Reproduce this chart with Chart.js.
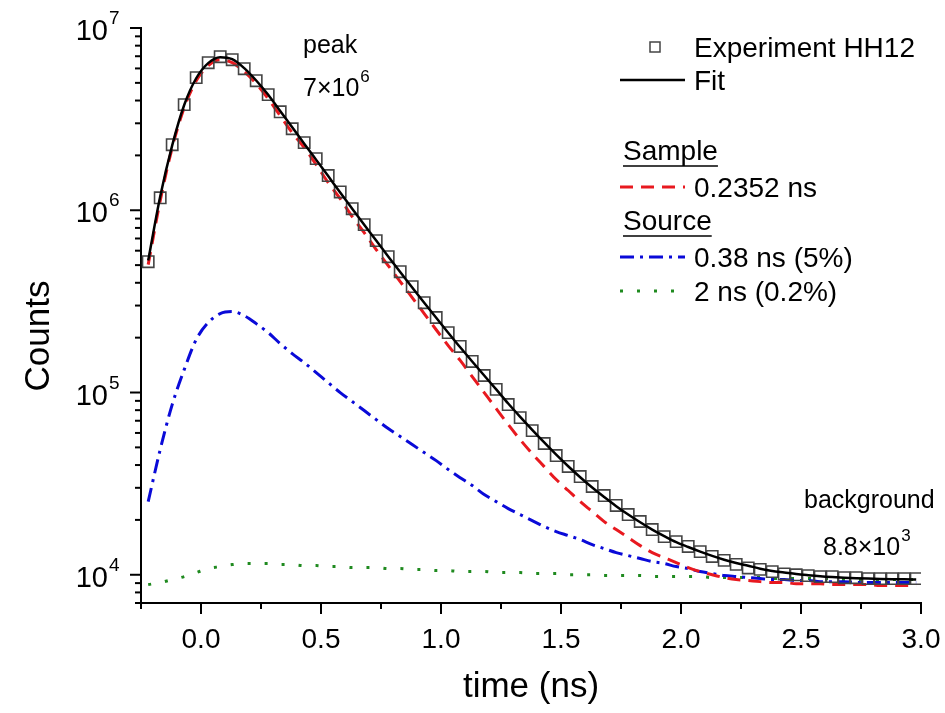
<!DOCTYPE html>
<html lang="en">
<head>
<meta charset="UTF-8">
<title>Lifetime spectrum HH12</title>
<script src="https://cdn.jsdelivr.net/npm/chart.js"></script>
<style>
  html, body { margin: 0; padding: 0; background: #fff; }
  #wrap { width: 945px; height: 713px; }
</style>
</head>
<body>
<div id="wrap"><canvas id="spectrum" width="945" height="713"></canvas></div>
<script>
// time channels (ns)
const times = [-0.22, -0.17, -0.12, -0.07, -0.02, 0.03, 0.08, 0.13, 0.18, 0.23,
  0.28, 0.33, 0.38, 0.43, 0.48, 0.53, 0.58, 0.63, 0.68, 0.73,
  0.78, 0.83, 0.88, 0.93, 0.98, 1.03, 1.08, 1.13, 1.18, 1.23,
  1.28, 1.33, 1.38, 1.43, 1.48, 1.53, 1.58, 1.63, 1.68, 1.73,
  1.78, 1.83, 1.88, 1.93, 1.98, 2.03, 2.08, 2.13, 2.18, 2.23,
  2.28, 2.33, 2.38, 2.43, 2.48, 2.53, 2.58, 2.63, 2.68, 2.73,
  2.78, 2.83, 2.88, 2.93, 2.98];

// Experiment HH12 (squares)
const experiment = [5.22e5, 1.17e6, 2.29e6, 3.80e6, 5.34e6, 6.45e6, 6.96e6, 6.70e6, 5.98e6, 5.14e6,
  4.31e6, 3.47e6, 2.80e6, 2.35e6, 1.92e6, 1.55e6, 1.26e6, 1.02e6, 8.34e5, 6.81e5,
  5.56e5, 4.60e5, 3.81e5, 3.11e5, 2.58e5, 2.13e5, 1.79e5, 1.48e5, 1.24e5, 1.04e5,
  8.59e4, 7.28e4, 6.18e4, 5.25e4, 4.51e4, 3.93e4, 3.46e4, 3.05e4, 2.72e4, 2.40e4,
  2.14e4, 1.96e4, 1.77e4, 1.62e4, 1.52e4, 1.43e4, 1.34e4, 1.26e4, 1.20e4, 1.14e4,
  1.09e4, 1.07e4, 1.04e4, 1.01e4, 1.00e4, 9.89e3, 9.77e3, 9.77e3, 9.64e3, 9.64e3,
  9.52e3, 9.52e3, 9.52e3, 9.52e3, 9.52e3];

// total fit
const fitCounts = [5.30e5, 1.19e6, 2.27e6, 3.78e6, 5.30e6, 6.42e6, 6.92e6, 6.74e6, 6.02e6, 5.15e6,
  4.30e6, 3.50e6, 2.85e6, 2.32e6, 1.89e6, 1.54e6, 1.25e6, 1.02e6, 8.33e5, 6.82e5,
  5.58e5, 4.58e5, 3.77e5, 3.11e5, 2.57e5, 2.13e5, 1.77e5, 1.48e5, 1.24e5, 1.04e5,
  8.70e4, 7.35e4, 6.24e4, 5.32e4, 4.56e4, 3.94e4, 3.43e4, 3.01e4, 2.67e4, 2.38e4,
  2.14e4, 1.94e4, 1.77e4, 1.63e4, 1.51e4, 1.42e4, 1.34e4, 1.27e4, 1.21e4, 1.16e4,
  1.12e4, 1.08e4, 1.05e4, 1.03e4, 1.01e4, 9.95e3, 9.82e3, 9.72e3, 9.64e3, 9.58e3,
  9.53e3, 9.49e3, 9.46e3, 9.44e3, 9.42e3];

// sample component, 0.2352 ns
const sampleCounts = [5.03e5, 1.129e6, 2.205e6, 3.653e6, 5.14e6, 6.21e6, 6.70e6, 6.45e6, 5.76e6, 4.95e6,
  4.09e6, 3.30e6, 2.665e6, 2.205e6, 1.779e6, 1.417e6, 1.157e6, 9.22e5, 7.54e5, 6.08e5,
  4.97e5, 4.06e5, 3.32e5, 2.71e5, 2.21e5, 1.81e5, 1.50e5, 1.223e5, 9.99e4, 8.16e4,
  6.67e4, 5.51e4, 4.62e4, 3.92e4, 3.33e4, 2.90e4, 2.521e4, 2.222e4, 1.957e4, 1.770e4,
  1.600e4, 1.445e4, 1.323e4, 1.242e4, 1.166e4, 1.095e4, 1.041e4, 1.00e4, 9.65e3, 9.41e3,
  9.29e3, 9.17e3, 9.06e3, 9.06e3, 8.94e3, 8.94e3, 8.94e3, 8.83e3, 8.83e3, 8.83e3,
  8.83e3, 8.72e3, 8.72e3, 8.72e3, 8.72e3];

// source component, 0.38 ns (5%)
const sourceShort = [2.521e4, 4.86e4, 8.58e4, 1.335e5, 1.951e5, 2.418e5, 2.71e5, 2.78e5, 2.64e5, 2.387e5,
  2.131e5, 1.855e5, 1.634e5, 1.459e5, 1.286e5, 1.133e5, 9.99e4, 8.92e4, 7.96e4, 7.10e4,
  6.34e4, 5.73e4, 5.18e4, 4.68e4, 4.23e4, 3.78e4, 3.41e4, 3.09e4, 2.756e4, 2.521e4,
  2.308e4, 2.139e4, 1.982e4, 1.839e4, 1.726e4, 1.641e4, 1.560e4, 1.464e4, 1.392e4, 1.323e4,
  1.274e4, 1.227e4, 1.181e4, 1.152e4, 1.109e4, 1.081e4, 1.041e4, 1.015e4, 9.90e3, 9.77e3,
  9.65e3, 9.53e3, 9.41e3, 9.41e3, 9.29e3, 9.29e3, 9.17e3, 9.17e3, 9.17e3, 9.06e3,
  9.06e3, 9.06e3, 9.06e3, 9.06e3, 9.06e3];

// source component, 2 ns (0.2%)
const sourceLong = [8.83e3, 9.06e3, 9.41e3, 9.77e3, 1.028e4, 1.081e4, 1.109e4, 1.137e4, 1.152e4, 1.152e4,
  1.152e4, 1.137e4, 1.137e4, 1.123e4, 1.123e4, 1.109e4, 1.109e4, 1.095e4, 1.095e4, 1.095e4,
  1.081e4, 1.081e4, 1.068e4, 1.068e4, 1.054e4, 1.054e4, 1.041e4, 1.041e4, 1.041e4, 1.028e4,
  1.028e4, 1.028e4, 1.015e4, 1.015e4, 1.015e4, 1.00e4, 1.00e4, 1.00e4, 9.90e3, 9.90e3,
  9.90e3, 9.90e3, 9.77e3, 9.77e3, 9.77e3, 9.77e3, 9.77e3, 9.65e3, 9.65e3, 9.65e3,
  9.65e3, 9.65e3, 9.53e3, 9.53e3, 9.53e3, 9.53e3, 9.53e3, 9.53e3, 9.41e3, 9.41e3,
  9.41e3, 9.41e3, 9.41e3, 9.41e3, 9.41e3];

// axis ticks
const xMajorTicks = [0, 0.5, 1.0, 1.5, 2.0, 2.5, 3.0];
const xMinorTicks = [-0.25, 0.25, 0.75, 1.25, 1.75, 2.25, 2.75];
const yDecades = [1e4, 1e5, 1e6, 1e7];
const yMinorTicks = [];
[1e3, 1e4, 1e5, 1e6].forEach(d => {
    for (let m = 2; m <= 9; m++) if (d * m >= 7000) yMinorTicks.push(d * m);
});

const FONT = '"Liberation Sans", Arial, Helvetica, sans-serif';
const pts = arr => times.map((t, i) => ({ x: t, y: arr[i] }));

// ticks, labels, legend rows + annotations drawn on top
const decor = {
    id: 'decor',
    afterDraw(chart) {
        const { ctx, scales: { x, y } } = chart;
        const left = x.left, bottom = y.bottom;
        ctx.save();
        ctx.strokeStyle = '#000';
        ctx.lineWidth = 2;
        const seg = (x1, y1, x2, y2) => { ctx.beginPath(); ctx.moveTo(x1, y1); ctx.lineTo(x2, y2); ctx.stroke(); };

        // tick marks
        xMajorTicks.forEach(v => { const p = x.getPixelForValue(v); seg(p, bottom, p, bottom + 11); });
        xMinorTicks.forEach(v => { const p = x.getPixelForValue(v); seg(p, bottom, p, bottom + 6); });
        yDecades.forEach(v => { const p = y.getPixelForValue(v); seg(left - 11, p, left, p); });
        yMinorTicks.forEach(v => { const p = y.getPixelForValue(v); seg(left - 6, p, left, p); });

        ctx.fillStyle = '#000';
        // x tick labels
        ctx.font = '28px ' + FONT;
        ctx.textAlign = 'center';
        ctx.textBaseline = 'alphabetic';
        xMajorTicks.forEach(v => ctx.fillText(v.toFixed(1), x.getPixelForValue(v), bottom + 45));

        // y tick labels 10^n
        yDecades.forEach(v => {
            const p = y.getPixelForValue(v);
            ctx.font = '29px ' + FONT;
            ctx.textAlign = 'right';
            ctx.fillText('10', left - 33, p + 12);
            ctx.font = '19px ' + FONT;
            ctx.textAlign = 'left';
            ctx.fillText(String(Math.round(Math.log10(v))), left - 32, p - 4);
        });

        // axis titles
        ctx.font = '35px ' + FONT;
        ctx.textAlign = 'center';
        ctx.fillText('time (ns)', (x.left + x.right) / 2, 697);
        ctx.save();
        ctx.translate(49, 336);
        ctx.rotate(-Math.PI / 2);
        ctx.fillText('Counts', 0, 0);
        ctx.restore();

        // annotations
        ctx.font = '25px ' + FONT;
        ctx.textAlign = 'left';
        ctx.fillText('peak', 303, 53);
        ctx.fillText('7\u00d710', 303, 96);
        let w = ctx.measureText('7\u00d710').width;
        ctx.font = '17px ' + FONT;
        ctx.fillText('6', 304 + w, 82);

        ctx.font = '25px ' + FONT;
        ctx.fillText('background', 804, 508);
        ctx.fillText('8.8\u00d710', 823, 555);
        w = ctx.measureText('8.8\u00d710').width;
        ctx.font = '17px ' + FONT;
        ctx.fillText('3', 824 + w, 541);

        // legend
        const lx1 = 620, lx2 = 685, tx = 694;
        ctx.font = '28px ' + FONT;
        ctx.strokeStyle = '#444';
        ctx.lineWidth = 1.5;
        ctx.strokeRect(650, 42, 10, 10);
        ctx.fillText('Experiment HH12', tx, 57);

        ctx.strokeStyle = '#000';
        ctx.lineWidth = 2.5;
        seg(lx1, 80, lx2, 80);
        ctx.fillText('Fit', tx, 90);

        ctx.fillText('Sample', 623, 160);
        ctx.lineWidth = 1.5;
        seg(623, 166, 623 + ctx.measureText('Sample').width, 166);

        ctx.lineWidth = 3;
        ctx.strokeStyle = '#e8191f';
        ctx.setLineDash([13, 8]);
        seg(lx1, 187, lx2, 187);
        ctx.fillText('0.2352 ns', tx, 197);

        ctx.setLineDash([]);
        ctx.strokeStyle = '#000';
        ctx.lineWidth = 1.5;
        ctx.fillText('Source', 623, 230);
        seg(623, 236, 623 + ctx.measureText('Source').width, 236);

        ctx.lineWidth = 3;
        ctx.strokeStyle = '#0a0ad8';
        ctx.setLineDash([14, 6, 3, 6]);
        seg(lx1, 257, lx2, 257);
        ctx.fillText('0.38 ns (5%)', tx, 267);

        ctx.strokeStyle = '#1f8a1f';
        ctx.setLineDash([3, 14]);
        seg(lx1, 291, lx2, 291);
        ctx.fillText('2 ns (0.2%)', tx, 301);
        ctx.restore();
    }
};

const chart = new Chart(document.getElementById('spectrum'), {
    type: 'line',
    data: {
        datasets: [
            { label: 'Fit', data: pts(fitCounts), borderColor: '#000', borderWidth: 2.5,
              pointRadius: 0, cubicInterpolationMode: 'monotone', order: 1 },
            { label: 'Experiment HH12', data: pts(experiment), showLine: false, pointStyle: 'rect',
              pointRadius: 8, pointBorderColor: '#444', pointBorderWidth: 1.6,
              pointBackgroundColor: 'rgba(0,0,0,0)', order: 2 },
            { label: '0.2352 ns', data: pts(sampleCounts), borderColor: '#e8191f', borderWidth: 3,
              borderDash: [13, 8], pointRadius: 0, cubicInterpolationMode: 'monotone', order: 3 },
            { label: '0.38 ns (5%)', data: pts(sourceShort), borderColor: '#0a0ad8', borderWidth: 3,
              borderDash: [14, 6, 3, 6], pointRadius: 0, cubicInterpolationMode: 'monotone', order: 4 },
            { label: '2 ns (0.2%)', data: pts(sourceLong), borderColor: '#1f8a1f', borderWidth: 3,
              borderDash: [3, 14], pointRadius: 0, cubicInterpolationMode: 'monotone', order: 5 }
        ]
    },
    options: {
        responsive: false,
        animation: false,
        layout: { padding: { left: 141, top: 28, right: 24, bottom: 110 } },
        plugins: { legend: { display: false }, tooltip: { enabled: false } },
        scales: {
            x: {
                type: 'linear', min: -0.25, max: 3.0,
                grid: { display: false }, ticks: { display: false },
                border: { display: true, color: '#000', width: 2 },
                afterFit(s) { s.height = 0; }
            },
            y: {
                type: 'logarithmic', min: 7000, max: 1e7,
                grid: { display: false }, ticks: { display: false },
                border: { display: true, color: '#000', width: 2 },
                afterFit(s) { s.width = 0; }
            }
        }
    },
    plugins: [decor]
});
</script>
</body>
</html>
